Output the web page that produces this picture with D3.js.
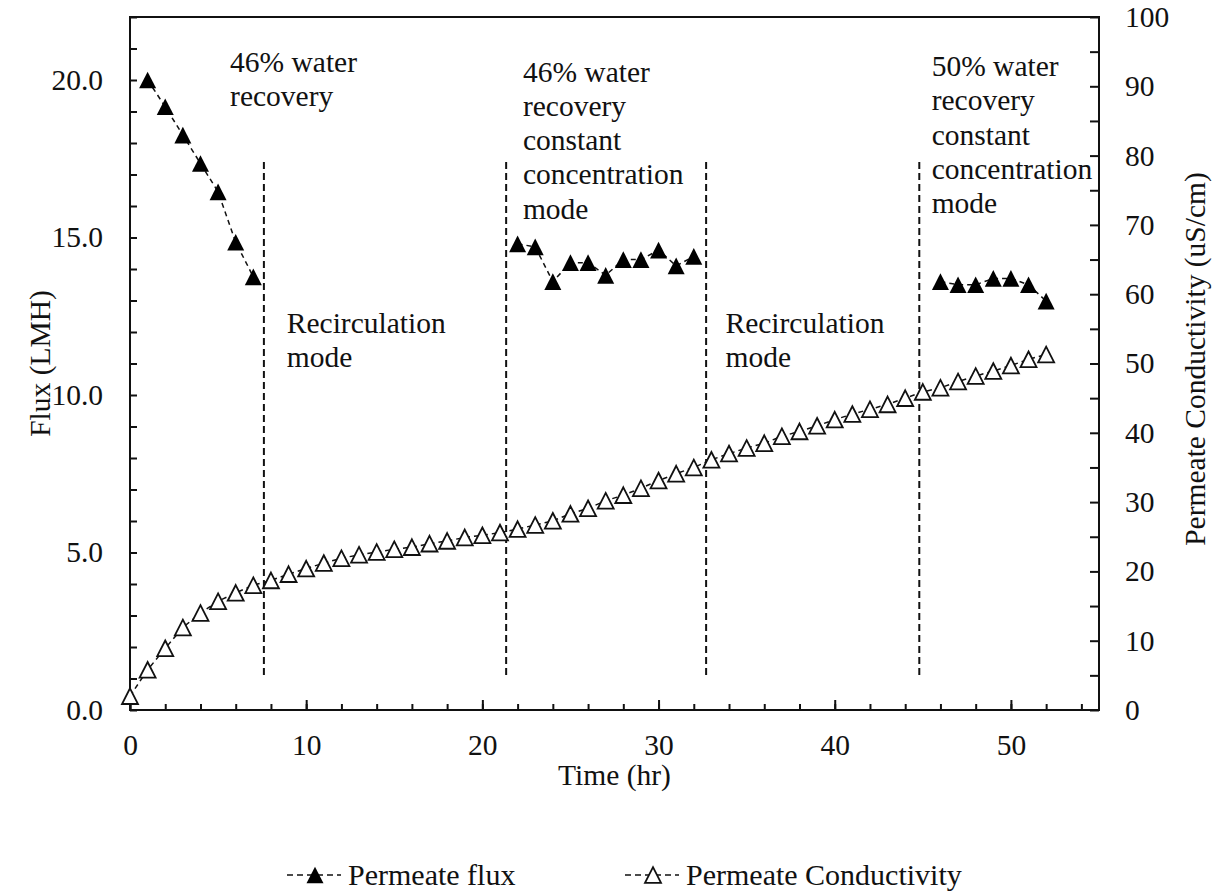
<!DOCTYPE html>
<html>
<head>
<meta charset="utf-8">
<script src="https://cdn.jsdelivr.net/npm/d3@7"></script>
<style>
  html, body { margin: 0; padding: 0; background: #fff; }
  svg text { font-family: "Liberation Serif", "Times New Roman", serif; fill: #111; }
</style>
</head>
<body>
<svg id="chart" width="1213" height="892"></svg>
<script>
// Permeate flux (LMH), measured hourly during the constant-concentration runs
const fluxHours = [1, 2, 3, 4, 5, 6, 7,
  22, 23, 24, 25, 26, 27, 28, 29, 30, 31, 32,
  46, 47, 48, 49, 50, 51, 52];
const fluxValues = [20.0, 19.15, 18.25, 17.35, 16.45, 14.85, 13.75,
  14.8, 14.7, 13.6, 14.2, 14.2, 13.8, 14.3, 14.3, 14.6, 14.1, 14.4,
  13.6, 13.5, 13.5, 13.7, 13.7, 13.5, 12.98];

// Permeate conductivity (uS/cm), hourly over the whole test
const condHours = d3.range(0, 53);
const condValues = [2.0, 5.8, 8.9, 11.9, 14.0, 15.7, 16.9, 18.0, 18.7, 19.6,
  20.4, 21.2, 21.9, 22.4, 22.8, 23.2, 23.5, 24.0, 24.4, 24.9,
  25.2, 25.6, 26.1, 26.7, 27.3, 28.3, 29.1, 30.2, 31.0, 32.0,
  33.1, 34.1, 35.0, 36.1, 37.0, 37.8, 38.5, 39.5, 40.2, 41.0,
  41.9, 42.7, 43.4, 44.1, 45.0, 45.9, 46.5, 47.4, 48.2, 48.9,
  49.7, 50.6, 51.3];

// Operating-mode boundaries (hr) and the mode labels
const boundaryHours = [7.6, 21.35, 32.7, 44.8];
const modeLabels = [
  { hour: 5.68, flux: 20.25, lines: ["46% water", "recovery"] },
  { hour: 22.3, flux: 19.95, lines: ["46% water", "recovery", "constant", "concentration", "mode"] },
  { hour: 45.5, flux: 20.13, lines: ["50% water", "recovery", "constant", "concentration", "mode"] },
  { hour: 8.9, flux: 11.98, lines: ["Recirculation", "mode"] },
  { hour: 33.8, flux: 11.98, lines: ["Recirculation", "mode"] }
];

// Axis ticks
const xTicks = d3.range(0, 56, 2);
const xLabelTicks = [0, 10, 20, 30, 40, 50];
const fluxTicks = d3.range(0, 23, 1);
const condTicks = d3.range(0, 101, 5);

const legendItems = ["Permeate flux", "Permeate Conductivity"];

const svg = d3.select("#chart");
const plot = { left: 130, right: 1099, top: 17, bottom: 710 };

const x = d3.scaleLinear().domain([0, 55]).range([plot.left, plot.right]);
const yL = d3.scaleLinear().domain([0, 22]).range([plot.bottom, plot.top]);
const yR = d3.scaleLinear().domain([0, 100]).range([plot.bottom, plot.top]);

// Triangle marker centred on its bounding box
const triangle = {
  draw(ctx, size) {
    const w = Math.sqrt(size);
    const h = w * 0.98;
    ctx.moveTo(0, -h / 2);
    ctx.lineTo(w / 2, h / 2);
    ctx.lineTo(-w / 2, h / 2);
    ctx.closePath();
  }
};
const filledTri = d3.symbol().type(triangle).size(17 * 17);
const openTri = d3.symbol().type(triangle).size(16 * 16);

// Axes (ticks point into the plot)
const fontSize = 29.5;
function styleAxis(g) {
  g.select(".domain").remove();
  g.selectAll(".tick line").attr("stroke", "#111").attr("stroke-width", 2);
  g.selectAll(".tick text").attr("font-size", fontSize).attr("fill", "#111")
    .attr("font-family", '"Liberation Serif", "Times New Roman", serif');
}

svg.append("g")
  .attr("transform", `translate(0,${plot.bottom})`)
  .call(d3.axisBottom(x).tickValues(xTicks).tickSize(-6).tickSizeOuter(0).tickFormat(() => ""))
  .call(styleAxis);
svg.append("g")
  .attr("transform", `translate(0,${plot.bottom})`)
  .call(d3.axisBottom(x).tickValues(xLabelTicks).tickSize(-10).tickSizeOuter(0)
    .tickPadding(24.5).tickFormat(d3.format("d")))
  .call(styleAxis);

svg.append("g")
  .attr("transform", `translate(${plot.left},0)`)
  .call(d3.axisLeft(yL).tickValues(fluxTicks).tickSize(-7).tickSizeOuter(0)
    .tickPadding(27).tickFormat(d => d % 5 === 0 ? d3.format(".1f")(d) : ""))
  .call(styleAxis);

svg.append("g")
  .attr("transform", `translate(${plot.right},0)`)
  .call(d3.axisRight(yR).tickValues(condTicks).tickSize(-9).tickSizeOuter(0)
    .tickPadding(26).tickFormat(d => d % 10 === 0 ? d3.format("d")(d) : ""))
  .call(styleAxis);

// Plot frame
svg.append("rect")
  .attr("x", plot.left).attr("y", plot.top)
  .attr("width", plot.right - plot.left).attr("height", plot.bottom - plot.top)
  .attr("fill", "none").attr("stroke", "#111").attr("stroke-width", 2);

// Axis titles
svg.append("text")
  .attr("transform", `translate(50,${(plot.top + plot.bottom) / 2}) rotate(-90)`)
  .attr("text-anchor", "middle").attr("font-size", fontSize)
  .text("Flux (LMH)");
svg.append("text")
  .attr("transform", `translate(1205,359) rotate(-90)`)
  .attr("text-anchor", "middle").attr("font-size", fontSize)
  .text("Permeate Conductivity (uS/cm)");
svg.append("text")
  .attr("x", (plot.left + plot.right) / 2).attr("y", 785)
  .attr("text-anchor", "middle").attr("font-size", fontSize)
  .text("Time (hr)");

// Mode boundaries
svg.append("g").selectAll("line").data(boundaryHours).join("line")
  .attr("x1", d => x(d)).attr("x2", d => x(d))
  .attr("y1", yL(17.4)).attr("y2", yL(1.0))
  .attr("stroke", "#111").attr("stroke-width", 2)
  .attr("stroke-dasharray", "7,4");

// Mode labels
const labelG = svg.append("g");
modeLabels.forEach(m => {
  const t = labelG.append("text")
    .attr("x", x(m.hour)).attr("y", yL(m.flux))
    .attr("font-size", fontSize);
  m.lines.forEach((line, i) => {
    t.append("tspan").attr("x", x(m.hour)).attr("dy", i === 0 ? 0 : 34.3).text(line);
  });
});

// Conductivity series (right axis)
const condData = condHours.map((h, i) => ({ h, v: condValues[i] }));
svg.append("path")
  .datum(condData)
  .attr("fill", "none").attr("stroke", "#111").attr("stroke-width", 1.5)
  .attr("stroke-dasharray", "5,4")
  .attr("d", d3.line().x(d => x(d.h)).y(d => yR(d.v)));
svg.append("g").selectAll("path").data(condData).join("path")
  .attr("transform", d => `translate(${x(d.h)},${yR(d.v)})`)
  .attr("d", openTri())
  .attr("fill", "#fff").attr("stroke", "#111").attr("stroke-width", 1.8);

// Flux series (left axis), one dashed run per operating period
const fluxData = fluxHours.map((h, i) => ({ h, v: fluxValues[i] }));
const runs = [];
fluxData.forEach((d, i) => {
  if (i === 0 || d.h - fluxData[i - 1].h > 1) runs.push([]);
  runs[runs.length - 1].push(d);
});
svg.append("g").selectAll("path").data(runs).join("path")
  .attr("fill", "none").attr("stroke", "#111").attr("stroke-width", 1.5)
  .attr("stroke-dasharray", "5,4")
  .attr("d", d3.line().x(d => x(d.h)).y(d => yL(d.v)));
svg.append("g").selectAll("path").data(fluxData).join("path")
  .attr("transform", d => `translate(${x(d.h)},${yL(d.v)})`)
  .attr("d", filledTri())
  .attr("fill", "#000");

// Legend
const legendX = [287, 625];
const legendY = 875;
const legend = svg.append("g");
legendItems.forEach((name, i) => {
  const g = legend.append("g").attr("transform", `translate(${legendX[i]},${legendY})`);
  g.append("line").attr("x1", 0).attr("x2", 54).attr("y1", 0).attr("y2", 0)
    .attr("stroke", "#111").attr("stroke-width", 1.5).attr("stroke-dasharray", "6,4");
  g.append("path").attr("transform", "translate(28,0)")
    .attr("d", i === 0 ? filledTri() : openTri())
    .attr("fill", i === 0 ? "#000" : "#fff")
    .attr("stroke", i === 0 ? "none" : "#111").attr("stroke-width", 1.8);
  g.append("text").attr("x", 61).attr("y", 10).attr("font-size", 30).text(name);
});
</script>
</body>
</html>
